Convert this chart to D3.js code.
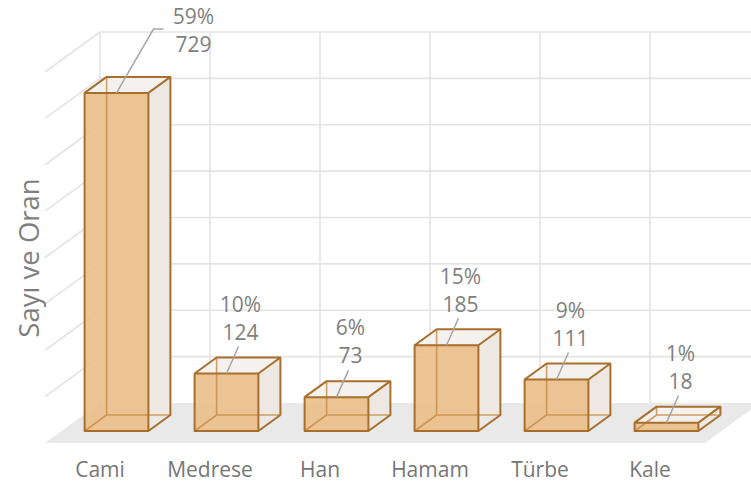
<!DOCTYPE html>
<html>
<head>
<meta charset="utf-8">
<script src="https://cdn.jsdelivr.net/npm/d3@7"></script>
<style>
  body { margin: 0; background: #fff; }
  text { font-family: "Open Sans", sans-serif; fill: #7f7f7f; }
</style>
</head>
<body>
<div id="chart"></div>
<script>
var categories = ['Cami', 'Medrese', 'Han', 'Hamam', 'Türbe', 'Kale'];
var values = [729, 124, 73, 185, 111, 18];
var percents = ['59%', '10%', '6%', '15%', '9%', '1%'];
var yTicks = [0, 100, 200, 300, 400, 500, 600, 700, 800];

var width = 751, height = 486;
var depth = { x: 55, y: -40 };   // oblique offset front -> back wall
var barZ = [0.3, 0.7];           // bar depth inside the floor

var svg = d3.select('#chart').append('svg').attr('width', width).attr('height', height);

var x = d3.scaleBand().domain(categories).range([45, 705]).paddingInner(0.42).paddingOuter(0.21);
var y = d3.scaleLinear().domain([0, 800]).range([443, 72]);

function pt(px, v, z) {
	return [px + z * depth.x, y(v) + z * depth.y];
}
function poly(points) {
	return 'M' + points.map(function (p) { return p[0] + ',' + p[1]; }).join('L') + 'Z';
}

var x0 = x.range()[0], x1 = x.range()[1];
var grid = svg.append('g').attr('stroke', '#e4e4e4').attr('stroke-width', 1.6).attr('fill', 'none');

// back wall horizontal lines + side wall diagonals
yTicks.forEach(function (t) {
	var b = pt(x0, t, 1);
	if (t > 0) {
		grid.append('line').attr('x1', b[0]).attr('y1', b[1]).attr('x2', width).attr('y2', b[1]);
		var f = pt(x0, t, 0);
		grid.append('line').attr('x1', f[0]).attr('y1', f[1]).attr('x2', b[0]).attr('y2', b[1]);
	}
});
// back wall verticals at category boundaries
d3.range(categories.length + 1).forEach(function (i) {
	var px = x0 + i * x.step();
	var top = pt(px, 800, 1), bot = pt(px, 0, 1);
	grid.append('line').attr('x1', top[0]).attr('y1', top[1]).attr('x2', bot[0]).attr('y2', bot[1]);
});

// floor
svg.append('path')
	.attr('d', poly([pt(x0, 0, 0), pt(x1, 0, 0), pt(x1, 0, 1), pt(x0, 0, 1)]))
	.attr('fill', '#e9e9e9');

// bars
var bars = svg.selectAll('g.bar').data(values).enter().append('g').attr('class', 'bar');

bars.each(function (d, i) {
	var g = d3.select(this);
	var l = x(categories[i]), r = l + x.bandwidth();
	var zf = barZ[0], zb = barZ[1];
	var FLB = pt(l, 0, zf), FRB = pt(r, 0, zf), FLT = pt(l, d, zf), FRT = pt(r, d, zf);
	var BLB = pt(l, 0, zb), BRB = pt(r, 0, zb), BLT = pt(l, d, zb), BRT = pt(r, d, zb);

	// back face
	g.append('path').attr('d', poly([BLB, BRB, BRT, BLT])).attr('fill', '#eeeae4');
	// front, side, top faces
	g.append('path').attr('d', poly([FLB, FRB, FRT, FLT])).attr('fill', '#ebbf88').attr('fill-opacity', 0.9);
	g.append('path').attr('d', poly([FRB, BRB, BRT, FRT])).attr('fill', '#ece8e2').attr('fill-opacity', 0.85);
	g.append('path').attr('d', poly([FLT, FRT, BRT, BLT])).attr('fill', '#f4f2ee').attr('fill-opacity', 0.9);
	// hidden edges seen through the faces
	g.append('path')
		.attr('d', 'M' + BLT + 'L' + BLB + 'L' + BRB + 'M' + BLB + 'L' + FLB)
		.attr('fill', 'none').attr('stroke', '#c68a45').attr('stroke-opacity', 0.8).attr('stroke-width', 1.6);
	// visible edges
	g.append('path')
		.attr('d', poly([FLB, FRB, FRT, FLT]) + 'M' + FRB + 'L' + BRB + 'L' + BRT + 'L' + FRT +
			'M' + FLT + 'L' + BLT + 'L' + BRT)
		.attr('fill', 'none').attr('stroke', '#a86f2c').attr('stroke-width', 2).attr('stroke-linejoin', 'round');

	// data label with leader line
	var anchor = [(FLT[0] + FRT[0]) / 2, FLT[1]];
	var ly = anchor[1] - 41, lx = anchor[0] + 14, clamped = false;
	if (ly < 70) { ly = 45; lx = anchor[0] + 77; clamped = true; }
	var leader = clamped
		? 'M' + (lx - 30) + ',' + (ly - 16) + 'L' + (lx - 40) + ',' + (ly - 16) + 'L' + anchor
		: 'M' + (lx - 2) + ',' + (ly + 14) + 'L' + anchor;
	g.append('path').attr('d', leader).attr('fill', 'none').attr('stroke', '#a6a6a6').attr('stroke-width', 1.5);
	g.append('text').attr('x', lx).attr('y', ly - 28).attr('dy', '0.35em').attr('text-anchor', 'middle')
		.attr('font-size', 21).text(percents[i]);
	g.append('text').attr('x', lx).attr('y', ly).attr('dy', '0.35em').attr('text-anchor', 'middle')
		.attr('font-size', 21).text(d);
});

// category labels
svg.append('g').selectAll('text').data(categories).enter().append('text')
	.attr('x', function (d) { return x(d) + x.bandwidth() / 2; })
	.attr('y', 470).attr('dy', '0.35em').attr('text-anchor', 'middle')
	.attr('font-size', 21).style('fill', '#767676')
	.text(function (d) { return d; });

// axis title
svg.append('text')
	.attr('transform', 'translate(29,258) rotate(-90)')
	.attr('text-anchor', 'middle').attr('dy', '0.35em')
	.attr('font-size', 27.5)
	.text('Sayı ve Oran');
</script>
</body>
</html>
